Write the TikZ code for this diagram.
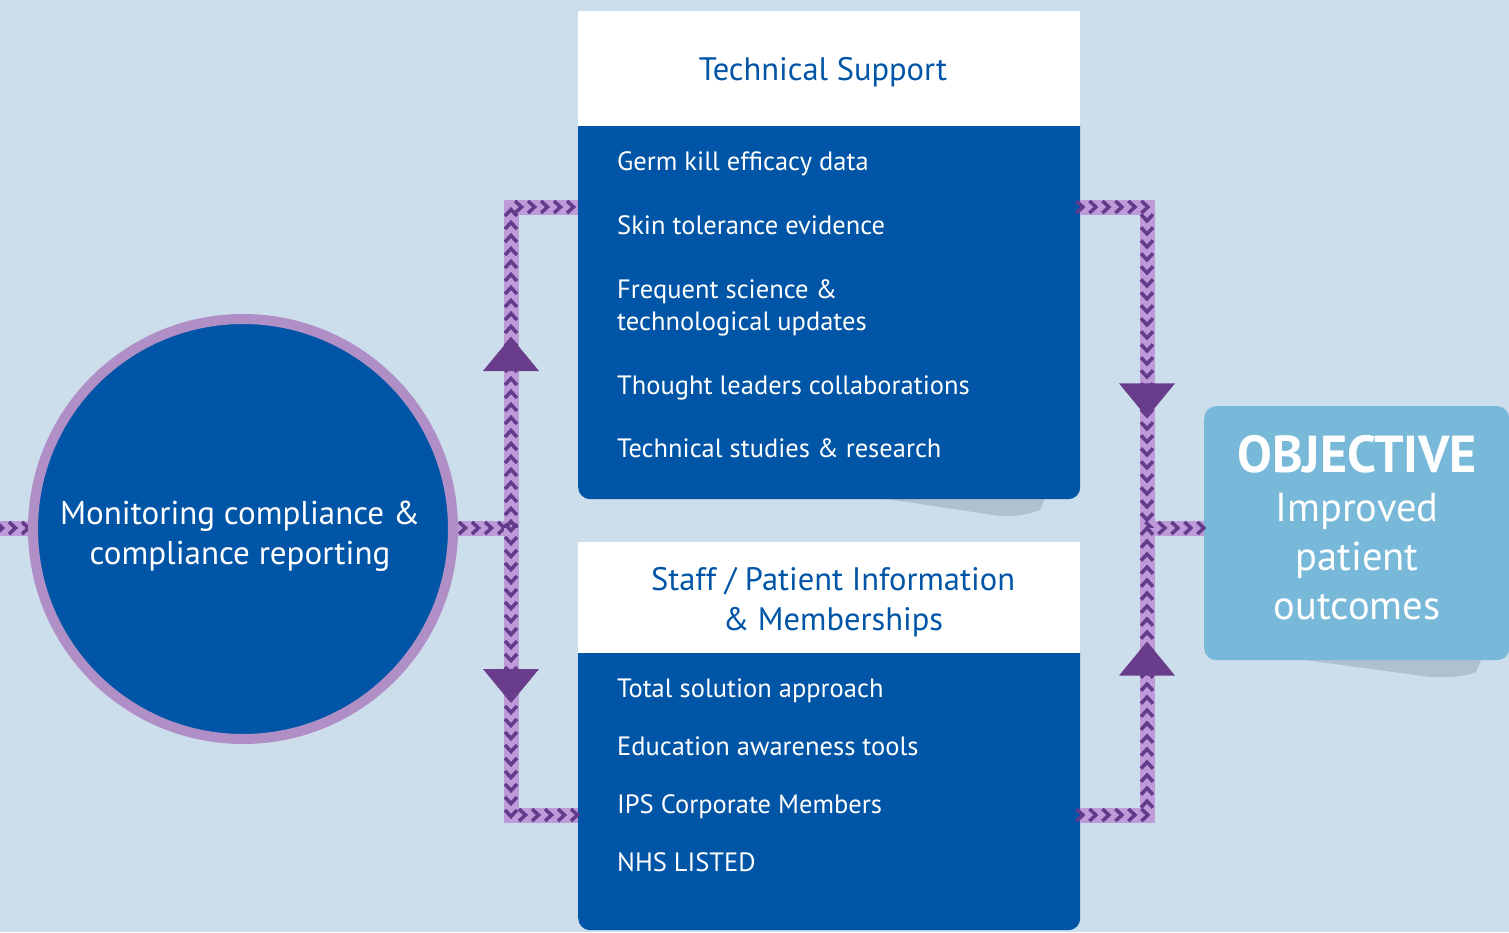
\documentclass[tikz,border=0pt]{standalone}
\usepackage{fontspec}
\setmainfont{PT Sans}
\usetikzlibrary{decorations.markings}
\definecolor{bg}{HTML}{CCDDEC}
\definecolor{nblue}{HTML}{0055A6}
\definecolor{ring}{HTML}{B08FC7}
\definecolor{bandl}{HTML}{BE9AD8}
\definecolor{bandd}{HTML}{643A8B}
\definecolor{tric}{HTML}{6A3D8C}
\definecolor{objc}{HTML}{78B9D9}
\definecolor{shad}{HTML}{7F8C9C}
\tikzset{
  band/.style={line width=15pt, draw=bandl, line join=miter,
    postaction={decorate, decoration={markings,
      mark=between positions 0 and 1 step 13pt with {\draw[bandd, line width=3.5pt] (-4pt,-6pt) -- (2.5pt,0pt) -- (-4pt,6pt);}}}},
  tri/.style={postaction={decorate, decoration={markings,
      mark=at position #1 with {\fill[tric] (17pt,0pt) -- (-17pt,28pt) -- (-17pt,-28pt) -- cycle;}}}},
  body/.style={fill=nblue, rounded corners=12pt, inner sep=0pt, anchor=north west, minimum width=502pt},
  head/.style={fill=white, inner sep=0pt, anchor=north west, minimum width=502pt},
  htext/.style={text=nblue, align=center, inner sep=0pt, font=\fontsize{32.5}{40}\selectfont},
  item/.style={anchor=base west, text=white, inner sep=0pt, font=\fontsize{26.5}{32}\selectfont},
}
\begin{document}
\begin{tikzpicture}[x=1pt,y=-1pt]
\useasboundingbox (0,0) rectangle (1509,932);
\fill[bg] (0,0) rectangle (1509,932);
% shadows
\fill[shad, opacity=0.35] (880,498) -- (1045,498) -- (1040,510) to[out=200,in=0] (1000,516) -- cycle;
\fill[shad, opacity=0.35] (1290,658) -- (1482,658) -- (1476,672) to[out=200,in=0] (1430,677) -- cycle;
% boxes
\node[body, minimum height=385pt] (tsBody) at (578,114) {};
\node[head, minimum height=115pt] (tsHead) at (578,11) {};
\node[htext] (tsTitle) at (823,72) {Technical Support};
\node[body, minimum height=289pt] (spBody) at (578,641) {};
\node[head, minimum height=111pt] (spHead) at (578,542) {};
\node[htext] (spTitle) at (833,602) {Staff / Patient Information\\\& Memberships};
\node[item] (t1) at (617,170.5) {Germ kill efficacy data};
\node[item] (t2) at (617,234.5) {Skin tolerance evidence};
\node[item] (t3a) at (617,298.5) {Frequent science \&};
\node[item] (t3b) at (617,330.5) {technological updates};
\node[item] (t4) at (617,394.5) {Thought leaders collaborations};
\node[item] (t5) at (617,457.5) {Technical studies \& research};
\node[item] (s1) at (617,697.5) {Total solution approach};
\node[item] (s2) at (617,755.5) {Education awareness tools};
\node[item] (s3) at (617,813.5) {IPS Corporate Members};
\node[item] (s4) at (617,871.5) {NHS LISTED};
% objective
\node[fill=objc, rounded corners=12pt, anchor=north west, minimum width=305pt, minimum height=254pt, inner sep=0pt] (obj) at (1204,406) {};
\node[text=white, align=center, font=\fontsize{40.5}{49}\selectfont] (objt) at (1357,528) {{\bfseries\fontsize{52}{49}\selectfont OBJECTIVE}\\Improved\\patient\\outcomes};
% coordinates
\coordinate (jl) at (511,528);
\coordinate (ltc) at (511,207);
\coordinate (lbc) at (511,815);
\coordinate (rtc) at (1147,207);
\coordinate (rbc) at (1147,815);
\coordinate (jr) at (1147,528);
\coordinate (stub) at (0,528);
\coordinate (circW) at (40,528);
\coordinate (circE) at (450,528);
% connectors
\draw[band] (stub) -- (circW);
\draw[band, tri=235pt] (circE) -- (jl) -- (ltc) -- (tsBody.west |- ltc);
\draw[band, tri=158pt] (jl) -- (lbc) -- (spBody.west |- lbc);
\draw[band, tri=260pt] (tsBody.east |- rtc) -- (rtc) -- (jr) -- (obj.west |- jr);
\draw[band, tri=223pt] (spBody.east |- rbc) -- (rbc) -- (jr);
% circle
\node[circle, fill=nblue, draw=ring, line width=10pt, minimum size=420pt, inner sep=0pt] (circ) at (243,529) {};
\node[text=white, align=center, inner sep=0pt, font=\fontsize{33}{40}\selectfont] (circt) at (240,536) {Monitoring compliance \&\\compliance reporting};
\end{tikzpicture}
\end{document}
